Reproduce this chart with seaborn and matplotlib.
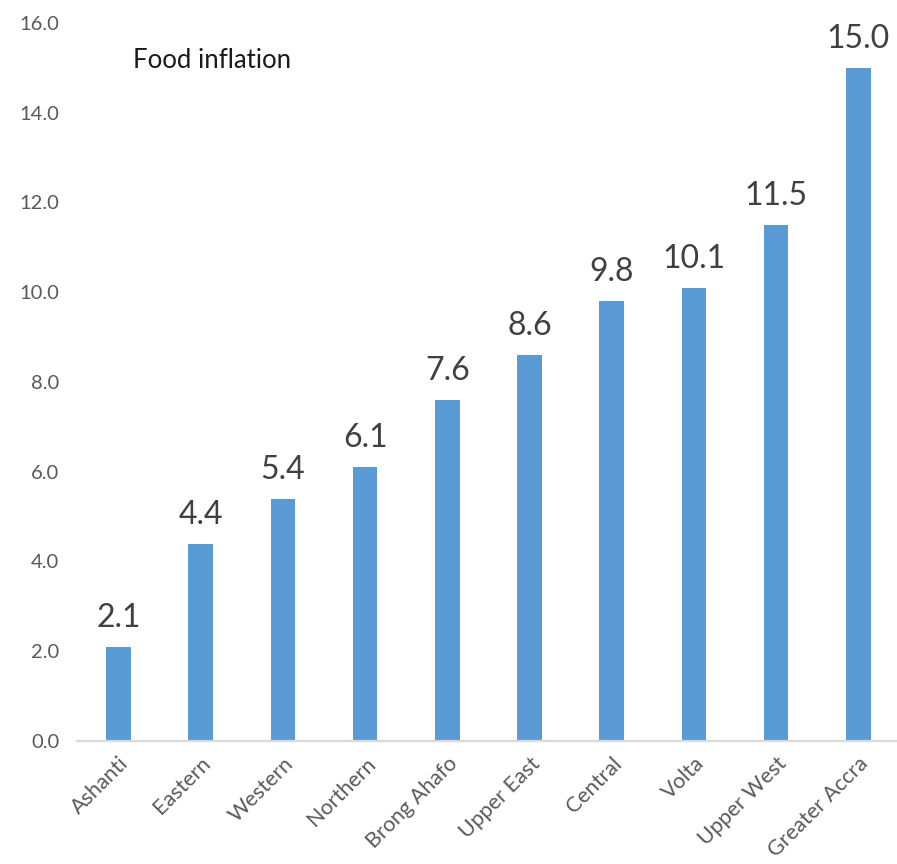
import matplotlib
matplotlib.use("Agg")
import matplotlib.pyplot as plt
import seaborn as sns
import pandas as pd
from matplotlib.ticker import FormatStrFormatter, MultipleLocator

# Regional food inflation (%)
regions = ["Ashanti", "Eastern", "Western", "Northern", "Brong Ahafo",
           "Upper East", "Central", "Volta", "Upper West", "Greater Accra"]
food_inflation = [2.1, 4.4, 5.4, 6.1, 7.6, 8.6, 9.8, 10.1, 11.5, 15.0]
title_text = "Food inflation"

df = pd.DataFrame({"region": regions, "value": food_inflation})

sns.set_theme(style="white")
plt.rcParams["font.family"] = ["Lato", "DejaVu Sans"]

fig = plt.figure(figsize=(8.97, 8.64), dpi=100)
ax = fig.add_axes([0.0863, 0.1424, 0.9137, 0.831])

sns.barplot(data=df, x="region", y="value", color="#5B9BD5",
            saturation=1, width=0.3, ax=ax, edgecolor="none")

ax.set_ylim(0, 16)
ax.set_xlim(-0.5, 9.47)
ax.yaxis.set_major_locator(MultipleLocator(2))
ax.yaxis.set_major_formatter(FormatStrFormatter("%.1f"))
ax.set_xlabel("")
ax.set_ylabel("")

for side in ["top", "right", "left"]:
    ax.spines[side].set_visible(False)
ax.spines["bottom"].set_color("#D9D9D9")
ax.spines["bottom"].set_linewidth(1.6)

ax.tick_params(axis="y", length=0, pad=13, labelsize=14.5, labelcolor="#595959")
ax.tick_params(axis="x", length=0, pad=9, labelsize=15.5, labelcolor="#595959")
for lbl in ax.get_xticklabels():
    lbl.set_rotation(45)
    lbl.set_ha("right")
    lbl.set_rotation_mode("anchor")

ax.bar_label(ax.containers[0], labels=[f"{v:.1f}" for v in food_inflation],
             padding=10, fontsize=23, color="#404040")

ax.text(0.068, 0.948, title_text, transform=ax.transAxes, fontsize=18.5,
        color="#1a1a1a", ha="left", va="center")

fig.savefig("out.png", dpi=100, facecolor="white")
